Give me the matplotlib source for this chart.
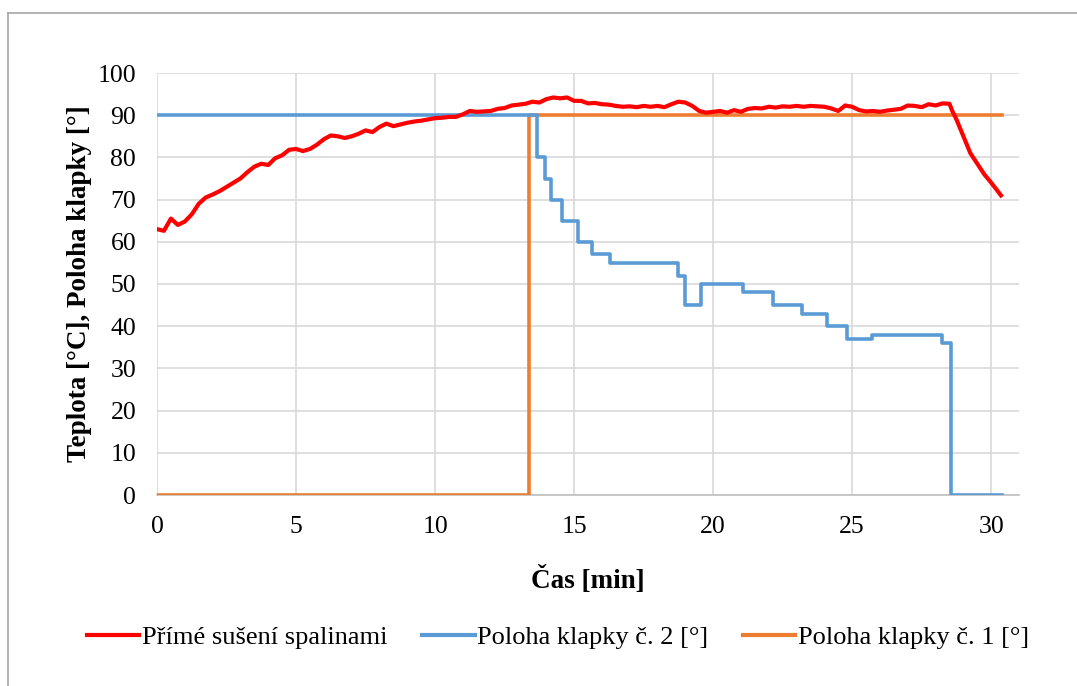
import matplotlib
matplotlib.use("Agg")
import matplotlib.pyplot as plt
from matplotlib.lines import Line2D

# ================================
# DATA
# ================================
# red curve - time [min] and temperature [°C]
t_red = [0.00, 0.25, 0.50, 0.75, 1.00, 1.25, 1.50, 1.75, 2.00, 2.25, 2.50, 2.75,
         3.00, 3.25, 3.50, 3.75, 4.00, 4.25, 4.50, 4.75, 5.00, 5.25, 5.50, 5.75,
         6.00, 6.25, 6.50, 6.75, 7.00, 7.25, 7.50, 7.75, 8.00, 8.25, 8.50, 8.75,
         9.00, 9.25, 9.50, 9.75, 10.00, 10.25, 10.50, 10.75, 11.00, 11.25, 11.50,
         11.75, 12.00, 12.25, 12.50, 12.75, 13.00, 13.25, 13.50, 13.75, 14.00,
         14.25, 14.50, 14.75, 15.00, 15.25, 15.50, 15.75, 16.00, 16.25, 16.50,
         16.75, 17.00, 17.25, 17.50, 17.75, 18.00, 18.25, 18.50, 18.75, 19.00,
         19.25, 19.50, 19.75, 20.00, 20.25, 20.50, 20.75, 21.00, 21.25, 21.50,
         21.75, 22.00, 22.25, 22.50, 22.75, 23.00, 23.25, 23.50, 23.75, 24.00,
         24.25, 24.50, 24.75, 25.00, 25.25, 25.50, 25.75, 26.00, 26.25, 26.50,
         26.75, 27.00, 27.25, 27.50, 27.75, 28.00, 28.25, 28.50, 28.60, 28.75,
         29.00, 29.25, 29.50, 29.75, 30.00, 30.20, 30.35]
temp_red = [63.0, 62.6, 65.5, 64.0, 64.8, 66.5, 69.0, 70.5, 71.2, 72.0, 73.0, 74.0,
            75.0, 76.5, 77.8, 78.5, 78.2, 79.8, 80.5, 81.8, 82.0, 81.5, 82.0, 83.0,
            84.3, 85.2, 85.0, 84.6, 85.0, 85.6, 86.4, 86.0, 87.2, 88.0, 87.4, 87.8,
            88.2, 88.5, 88.7, 89.0, 89.3, 89.4, 89.6, 89.6, 90.2, 91.0, 90.8,
            90.9, 91.0, 91.5, 91.7, 92.3, 92.5, 92.7, 93.2, 93.0, 93.8,
            94.2, 94.0, 94.2, 93.4, 93.4, 92.8, 92.9, 92.6, 92.5, 92.2,
            92.0, 92.1, 91.9, 92.2, 92.0, 92.2, 91.9, 92.6, 93.2, 93.0,
            92.2, 91.0, 90.6, 90.8, 91.0, 90.6, 91.2, 90.8, 91.5, 91.7,
            91.6, 92.0, 91.8, 92.1, 92.0, 92.2, 92.0, 92.2, 92.1, 92.0,
            91.6, 91.0, 92.3, 92.0, 91.2, 90.9, 91.0, 90.8, 91.1, 91.3,
            91.5, 92.3, 92.2, 91.9, 92.6, 92.3, 92.8, 92.7, 91.0, 89.0,
            85.0, 81.0, 78.5, 76.0, 74.0, 72.3, 71.0]

# blue steps - damper no. 2 position [°] (value holds from its time on)
t_blue = [0.0, 13.68, 13.96, 14.17, 14.57, 15.14, 15.65, 16.30, 18.74, 18.99,
          19.57, 21.08, 22.16, 23.20, 24.10, 24.82, 25.72, 28.24, 28.56, 30.40]
pos_blue = [90, 80, 75, 70, 65, 60, 57, 55, 52, 45,
            50, 48, 45, 43, 40, 37, 38, 36, 0, 0]

# orange steps - damper no. 1 position [°]
t_orange = [0.0, 13.38, 30.40]
pos_orange = [0, 90, 90]

labels = ["Přímé sušení spalinami", "Poloha klapky č. 2 [°]", "Poloha klapky č. 1 [°]"]
colors = ["#ff0000", "#5b9bd5", "#ed7d31"]

# ================================
# PLOT
# ================================
plt.rcParams["font.family"] = ["Liberation Serif", "DejaVu Serif"]

fig = plt.figure(figsize=(10.77, 6.86), dpi=100)
ax = fig.add_axes([157 / 1077, 1 - 495 / 686, (1019 - 157) / 1077, (495 - 73) / 686])

ax.step(t_orange, pos_orange, where="post", color=colors[2], lw=2.6, zorder=3)
ax.step(t_blue, pos_blue, where="post", color=colors[1], lw=2.6, zorder=4)
ax.plot(t_red, temp_red, color=colors[0], lw=3.0, zorder=5)

ax.set_xlim(0, 31)
ax.set_ylim(0, 100)
ax.set_xticks(range(0, 31, 5))
ax.set_yticks(range(0, 101, 10))
ax.grid(True, color="#d9d9d9", lw=1.2)
ax.set_axisbelow(True)
for s in ["top", "right", "left"]:
    ax.spines[s].set_visible(False)
ax.spines["bottom"].set_color("#bfbfbf")
ax.spines["bottom"].set_linewidth(1.2)
ax.tick_params(length=0, labelsize=18.5, pad=15)

ax.set_xlabel("Čas [min]", fontsize=19.5, fontweight="bold", labelpad=20)
ax.set_ylabel("Teplota [°C], Poloha klapky [°]", fontsize=19.5, fontweight="bold", labelpad=4)

handles = [Line2D([0], [0], color=c, lw=3.0) for c in colors]
fig.legend(handles, labels, loc="center", bbox_to_anchor=(0.518, 1 - 637 / 686),
           ncol=3, frameon=False, fontsize=19, handlelength=2.0,
           handletextpad=0.1, columnspacing=1.3)

# chart border (only left and top edges fall inside the picture)
fig.add_artist(Line2D([8 / 1077, 8 / 1077], [0, 1 - 13 / 686], color="#a6a6a6", lw=1.2))
fig.add_artist(Line2D([8 / 1077, 1], [1 - 13 / 686, 1 - 13 / 686], color="#a6a6a6", lw=1.2))

fig.savefig("out.png", dpi=100)
